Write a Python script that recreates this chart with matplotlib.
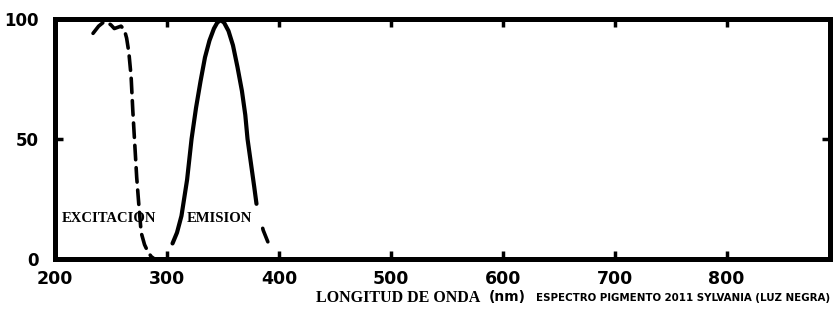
import matplotlib
matplotlib.use("Agg")
import matplotlib.pyplot as plt

# Data
exc_wl = [234, 239, 243, 247, 250, 253, 256, 259, 262, 264, 266, 268, 269.5, 271, 273, 275, 277, 280, 283, 286, 289]
exc_val = [94, 97, 98.5, 98.5, 97.5, 96, 96.5, 97, 95.5, 92, 86, 76, 62, 50, 34, 22, 11, 6, 3, 1, 0]

emi_wl = [305, 309, 313, 318, 322, 326, 330, 334, 338, 342, 345, 348, 351, 355, 359, 363, 367, 370, 372, 375, 378, 380]
emi_val = [6.5, 11, 18, 33, 50, 63, 74, 84, 91, 96, 98.5, 99.5, 98.5, 95, 89, 80, 70, 60, 50, 40, 30, 23]

tail_wl = [380, 386, 392]
tail_val = [23, 12, 5]

xticks = [200, 300, 400, 500, 600, 700, 800]
yticks = [0, 50, 100]

fig = plt.figure(figsize=(8.33, 3.21), dpi=100)
ax = fig.add_axes([0.066, 0.193, 0.930, 0.748])

ax.plot(exc_wl, exc_val, color="black", lw=2.6, ls=(0, (4, 2.2)), dash_capstyle="round")
ax.plot(emi_wl, emi_val, color="black", lw=3.0, solid_capstyle="round")
ax.plot(tail_wl, tail_val, color="black", lw=2.6, ls=(5, (4, 8)), dash_capstyle="round")

ax.set_xlim(200, 892)
ax.set_ylim(0, 100)
ax.set_xticks(xticks)
ax.set_yticks(yticks)
ax.set_xticklabels([str(v) for v in xticks], fontsize=12.5, fontweight="heavy", family="DejaVu Sans")
ax.set_yticklabels([str(v) for v in yticks], fontsize=12, fontweight="heavy", family="DejaVu Sans")
ax.tick_params(axis="both", direction="in", length=6, width=2.5, top=True, right=True)
ax.tick_params(axis="x", pad=8)
ax.tick_params(axis="y", pad=12)
for s in ax.spines.values():
    s.set_linewidth(3.6)

ax.text(206, 17, "EXCITACION", fontsize=10.5, fontweight="bold", family="Liberation Serif", va="center", ha="left")
ax.text(318, 17, "EMISION", fontsize=10.5, fontweight="bold", family="Liberation Serif", va="center", ha="left")

fig.text(316/833, 1 - 298/321, "LONGITUD DE ONDA", fontsize=11.5, family="Liberation Serif", fontweight="bold", va="center", ha="left")
fig.text(489/833, 1 - 297/321, "(nm)", fontsize=10, family="DejaVu Sans", fontweight="heavy", va="center", ha="left")
fig.text(536/833, 1 - 298/321, "ESPECTRO PIGMENTO 2011 SYLVANIA (LUZ NEGRA)", fontsize=8.2,
         family="DejaVu Sans", fontstretch="condensed", fontweight="bold", va="center", ha="left")

fig.savefig("out.png", dpi=100)
